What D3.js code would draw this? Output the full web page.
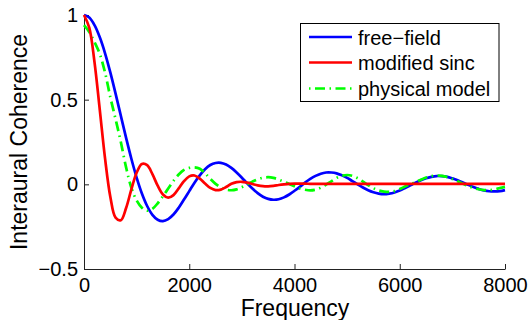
<!DOCTYPE html>
<html>
<head>
<meta charset="utf-8">
<script src="https://cdn.jsdelivr.net/npm/d3@7"></script>
<style>
  body { margin: 0; background: #fff; }
  svg { display: block; font-family: "Liberation Sans", Arial, sans-serif; }
</style>
</head>
<body>
<svg id="chart" width="528" height="320"></svg>
<script>
// Frequency grid (Hz) shared by all three coherence curves
const frequency = d3.range(0, 8001, 100);

// Interaural coherence, one value per 100 Hz step
const freeField = [
  1, 0.985, 0.940, 0.868, 0.774, 0.661, 0.536, 0.405, 0.274, 0.151, 0.040,
  -0.054, -0.128, -0.180, -0.209, -0.217, -0.205, -0.178, -0.138, -0.090, -0.040,
  0.010, 0.053, 0.089, 0.114, 0.126, 0.127, 0.117, 0.097, 0.070, 0.039,
  0.006, -0.025, -0.052, -0.073, -0.086, -0.091, -0.088, -0.077, -0.060, -0.038,
  -0.015, 0.010, 0.032, 0.050, 0.063, 0.070, 0.070, 0.065, 0.053, 0.038,
  0.019, 0.000, -0.019, -0.035, -0.047, -0.055, -0.058, -0.055, -0.048, -0.037,
  -0.022, -0.006, 0.010, 0.024, 0.036, 0.044, 0.049, 0.048, 0.044, 0.035,
  0.024, 0.011, -0.003, -0.016, -0.027, -0.036, -0.041, -0.042, -0.040, -0.034
];

const modifiedSinc = [
  1, 0.925, 0.720, 0.440, 0.153, -0.073, -0.197, -0.212, -0.140, -0.030, 0.068,
  0.120, 0.113, 0.060, -0.008, -0.060, -0.079, -0.064, -0.024, 0.019, 0.047,
  0.052, 0.034, 0.005, -0.021, -0.034, -0.031, -0.016, 0.003, 0.013, 0.015,
  0.010, 0.002, -0.006, -0.011, -0.012, -0.009, -0.004, 0.000, 0.003, 0.004,
  0.004, 0.004, 0.003, 0.003, 0.003, 0.003, 0.003, 0.003, 0.003, 0.003,
  0.003, 0.003, 0.003, 0.003, 0.003, 0.003, 0.003, 0.003, 0.003, 0.003,
  0.003, 0.003, 0.003, 0.003, 0.003, 0.003, 0.003, 0.003, 0.003, 0.003,
  0.003, 0.003, 0.003, 0.003, 0.003, 0.003, 0.003, 0.003, 0.003, 0.003
];

const physicalModel = [
  0.940, 0.900, 0.840, 0.770, 0.660, 0.515, 0.385, 0.250, 0.100, -0.020, -0.095,
  -0.138, -0.156, -0.145, -0.112, -0.070, -0.025, 0.020, 0.058, 0.085, 0.097,
  0.100, 0.092, 0.066, 0.032, 0.003, -0.018, -0.031, -0.035, -0.030, -0.017,
  0.000, 0.016, 0.030, 0.039, 0.042, 0.038, 0.028, 0.015, 0.002, -0.012,
  -0.024, -0.032, -0.036, -0.032, -0.020, -0.002, 0.018, 0.038, 0.050, 0.055,
  0.050, 0.036, 0.016, -0.005, -0.023, -0.036, -0.043, -0.045, -0.040, -0.028,
  -0.013, 0.001, 0.013, 0.027, 0.040, 0.048, 0.052, 0.050, 0.043, 0.032,
  0.018, 0.004, -0.010, -0.021, -0.029, -0.034, -0.034, -0.030, -0.022, -0.015
];

const seriesNames = ["free\u2212field", "modified sinc", "physical model"];
const seriesColors = ["#0000ff", "#ff0000", "#00ff00"];
const xTicks = [0, 2000, 4000, 6000, 8000];
const yTicks = [-0.5, 0, 0.5, 1];

const svg = d3.select("#chart");
const x = d3.scaleLinear().domain([0, 8000]).range([84, 505]);
const y = d3.scaleLinear().domain([-0.5, 1]).range([269, 15]);
const fmt = d3.format("~g");

// Axes: left and bottom only, ticks pointing into the plot
const xAxis = svg.append("g")
  .attr("transform", "translate(0,269)")
  .call(d3.axisBottom(x).tickValues(xTicks).tickFormat(fmt)
    .tickSizeInner(-5).tickSizeOuter(0).tickPadding(9));
const yAxis = svg.append("g")
  .attr("transform", "translate(84,0)")
  .call(d3.axisLeft(y).tickValues(yTicks).tickFormat(fmt)
    .tickSizeInner(-5).tickSizeOuter(0).tickPadding(6));

[xAxis, yAxis].forEach(g => {
  g.attr("font-size", null).attr("font-family", null);
  g.select(".domain").attr("stroke", "#222").attr("stroke-width", 1);
  g.selectAll(".tick line").attr("stroke", "#222");
  g.selectAll(".tick text").attr("fill", "#000").style("font-size", "20px");
});

// Curves
const series = [
  { values: freeField, dash: null },
  { values: modifiedSinc, dash: null },
  { values: physicalModel, dash: "10,4.5,1.5,4.5" }
];

const line = d3.line()
  .x((d, i) => x(frequency[i]))
  .y(d => y(d))
  .curve(d3.curveCatmullRom.alpha(0.5));

// draw order: free-field, physical model, then modified sinc on top where they cross
[0, 2, 1].forEach(k => {
  svg.append("path")
    .datum(series[k].values)
    .attr("d", line)
    .attr("fill", "none")
    .attr("stroke", seriesColors[k])
    .attr("stroke-width", 2.7)
    .attr("stroke-dasharray", series[k].dash);
});

// Axis titles
svg.append("text")
  .attr("x", 295).attr("y", 316)
  .attr("text-anchor", "middle")
  .style("font-size", "23px")
  .text("Frequency");

svg.append("text")
  .attr("transform", "translate(27,142) rotate(-90)")
  .attr("text-anchor", "middle")
  .style("font-size", "23px")
  .text("Interaural Coherence");

// Legend
const legend = svg.append("g");
legend.append("rect")
  .attr("x", 300.5).attr("y", 23.5)
  .attr("width", 198.5).attr("height", 78)
  .attr("fill", "#fff").attr("stroke", "#000").attr("stroke-width", 1);

const rowY = [37, 62.5, 88.5];
seriesNames.forEach((name, k) => {
  legend.append("line")
    .attr("x1", 309).attr("x2", 352)
    .attr("y1", rowY[k]).attr("y2", rowY[k])
    .attr("stroke", seriesColors[k])
    .attr("stroke-width", 2.7)
    .attr("stroke-dasharray", k === 2 ? "1.5,4.5,10,4.5" : null);
  legend.append("text")
    .attr("x", 358).attr("y", rowY[k] + 7.5)
    .style("font-size", "20px")
    .text(name);
});
</script>
</body>
</html>
